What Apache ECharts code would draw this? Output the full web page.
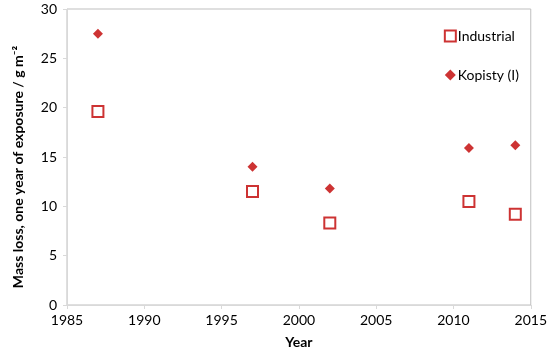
<!DOCTYPE html>
<html><head><meta charset="utf-8">
<script src="https://cdn.jsdelivr.net/npm/echarts@6/dist/echarts.min.js"></script>
<style>html,body{margin:0;padding:0;background:#fff}#c{width:550px;height:356px}</style>
</head><body><div id="c"></div>
<script>
const years = [1987, 1997, 2002, 2011, 2014];
const industrial = [19.6, 11.5, 8.3, 10.5, 9.2];
const kopisty = [27.5, 14.0, 11.8, 15.9, 16.2];
const xTicks = [1985, 1990, 1995, 2000, 2005, 2010, 2015];
const yTicks = [0, 5, 10, 15, 20, 25, 30];
const seriesNames = ['Industrial', 'Kopisty (I)'];

const chart = echarts.init(document.getElementById('c'));
const font = 'Lato';
const red = '#C00000';
chart.setOption({
  animation: false,
  grid: {left: 67, top: 9, right: 16, bottom: 51, show: true, borderColor: '#bfbfbf', borderWidth: 1, containLabel: false},
  legend: {
    orient: 'vertical', right: 26, top: 24, itemGap: 25, itemWidth: 11, itemHeight: 11,
    textStyle: {fontFamily: font, fontSize: 14, color: '#000', padding: [0,0,0,-3]},
    data: [
      {name: seriesNames[0], icon: 'rect', itemStyle: {color: '#fff', borderColor: red, borderWidth: 2}},
      {name: seriesNames[1], icon: 'diamond', itemStyle: {color: red}}
    ]
  },
  xAxis: {
    type: 'value', min: xTicks[0], max: xTicks[xTicks.length-1], interval: 5,
    name: 'Year', nameLocation: 'middle', nameGap: 30,
    nameTextStyle: {fontFamily: font, fontSize: 14, fontWeight: 'bold', color: '#000'},
    axisLine: {lineStyle: {color: '#d9d9d9'}},
    axisTick: {show: true, length: 4, lineStyle: {color: '#d9d9d9'}},
    axisLabel: {fontFamily: font, fontSize: 14, color: '#000', margin: 8, formatter: v => String(v)},
    splitLine: {show: false}
  },
  yAxis: {
    type: 'value', min: yTicks[0], max: yTicks[yTicks.length-1], interval: 5,
    name: 'Mass loss, one year of exposure / g m⁻²', nameLocation: 'middle', nameGap: 42,
    nameTextStyle: {fontFamily: font, fontSize: 14, fontWeight: 'bold', color: '#000', padding: [0, 20, 0, 0]},
    axisLine: {show: true, lineStyle: {color: '#d9d9d9'}},
    axisTick: {show: true, length: 4, lineStyle: {color: '#d9d9d9'}},
    axisLabel: {fontFamily: font, fontSize: 14, color: '#000', margin: 10},
    splitLine: {show: false}
  },
  series: [
    {name: seriesNames[0], type: 'scatter', symbol: 'rect', symbolSize: 11,
     itemStyle: {color: '#fff', borderColor: red, borderWidth: 2},
     data: years.map((y, i) => [y, industrial[i]])},
    {name: seriesNames[1], type: 'scatter', symbol: 'diamond', symbolSize: 10,
     itemStyle: {color: red},
     data: years.map((y, i) => [y, kopisty[i]])}
  ]
});
</script></body></html>
